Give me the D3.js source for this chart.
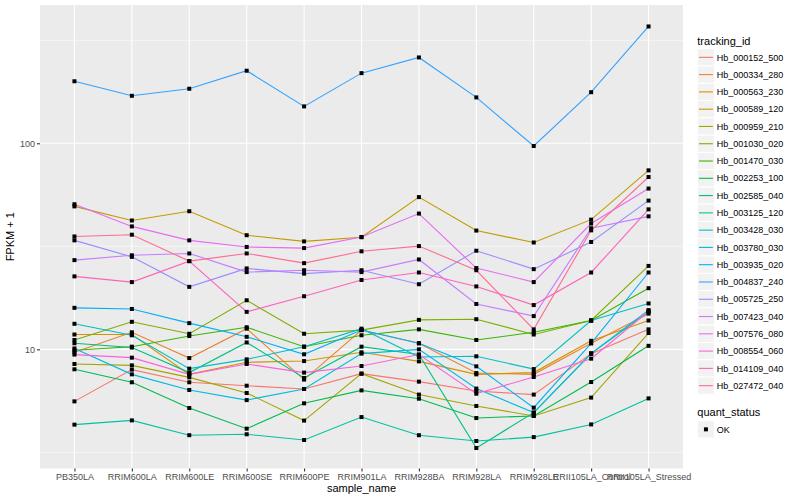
<!DOCTYPE html>
<html>
<head>
<meta charset="utf-8">
<script src="https://cdn.jsdelivr.net/npm/d3@7"></script>
<style>
  body { margin: 0; background: #fff; }
  text { font-family: "Liberation Sans", Arial, Helvetica, sans-serif; }
</style>
</head>
<body>
<svg id="chart"></svg>
<script>
// sample order on the x axis
const samples = [
  "PB350LA", "RRIM600LA", "RRIM600LE", "RRIM600SE", "RRIM600PE", "RRIM901LA",
  "RRIM928BA", "RRIM928LA", "RRIM928LE", "RRII105LA_Control", "RRII105LA_Stressed",
];

const trackingIds = [
  "Hb_000152_500", "Hb_000334_280", "Hb_000563_230", "Hb_000589_120", "Hb_000959_210",
  "Hb_001030_020", "Hb_001470_030", "Hb_002253_100", "Hb_002585_040", "Hb_003125_120",
  "Hb_003428_030", "Hb_003780_030", "Hb_003935_020", "Hb_004837_240", "Hb_005725_250",
  "Hb_007423_040", "Hb_007576_080", "Hb_008554_060", "Hb_014109_040", "Hb_027472_040",
];

// ggplot default hue palette for 20 groups
const seriesColors = [
  "#F8766D", "#EA8331", "#D89000", "#C09B00", "#A3A500",
  "#7CAE00", "#39B600", "#00BB4E", "#00BF7D", "#00C1A3",
  "#00BFC4", "#00BAE0", "#00B0F6", "#35A2FF", "#9590FF",
  "#C77CFF", "#E76BF3", "#FA62DB", "#FF62BC", "#FF6C91",
];

// FPKM + 1, one array per tracking id, in sample order
const hb000152_500 = [5.59, 7.97, 6.92, 6.66, 6.42, 7.62, 6.97, 6.28, 6.03, 9.53, 12.5];
const hb000334_280 = [9.67, 12.1, 9.07, 12.6, 7.13, 12.4, 10.7, 7.67, 7.56, 10.7, 14.9];
const hb000563_230 = [11.8, 11.8, 7.56, 8.65, 8.77, 9.67, 8.74, 7.56, 7.71, 11.0, 13.8];
const hb000589_120 = [49.4, 42.2, 46.8, 35.8, 33.4, 35.0, 54.8, 37.7, 33.0, 42.6, 73.9];
const hb000959_210 = [8.49, 8.36, 7.31, 6.14, 4.51, 7.62, 6.03, 5.31, 4.75, 5.83, 12.0];
const hb001030_020 = [11.1, 13.6, 11.9, 17.3, 11.9, 12.4, 13.9, 14.0, 11.8, 13.8, 25.4];
const hb001470_030 = [9.89, 10.3, 11.6, 12.8, 10.3, 11.7, 12.5, 11.1, 12.1, 13.8, 19.8];
const hb002253_100 = [8.0, 6.92, 5.19, 4.12, 5.47, 6.32, 5.76, 4.64, 4.75, 6.94, 10.4];
const hb002585_040 = [10.7, 10.2, 7.71, 10.8, 7.26, 10.3, 9.43, 3.32, 4.93, 9.53, 15.2];
const hb003125_120 = [4.31, 4.52, 3.83, 3.87, 3.63, 4.69, 3.83, 3.59, 3.75, 4.32, 5.78];
const hb003428_030 = [13.3, 11.7, 8.06, 8.94, 10.3, 12.6, 9.18, 9.25, 8.02, 13.8, 16.7];
const hb003780_030 = [10.1, 7.56, 6.35, 5.67, 6.42, 9.53, 10.0, 6.45, 4.93, 9.56, 15.5];
const hb003935_020 = [15.9, 15.7, 13.4, 11.5, 9.46, 12.4, 10.7, 8.27, 5.21, 10.7, 23.6];
const hb004837_240 = [200, 170, 184, 225, 151, 219, 261, 167, 97, 177, 369];
const hb005725_250 = [33.8, 28.1, 20.1, 24.7, 23.3, 24.2, 20.7, 30.1, 24.5, 33.2, 52.7];
const hb007423_040 = [27.1, 28.6, 29.2, 23.7, 24.2, 23.7, 27.3, 16.6, 14.5, 38.7, 44.2];
const hb007576_080 = [50.6, 39.5, 33.8, 31.4, 31.0, 35.1, 45.6, 24.8, 21.2, 40.8, 60.3];
const hb008554_060 = [9.43, 9.11, 7.56, 8.49, 7.71, 8.30, 9.43, 6.09, 7.34, 9.01, 15.3];
const hb014109_040 = [22.6, 21.2, 26.8, 15.2, 18.1, 21.7, 23.6, 20.2, 16.4, 23.6, 47.8];
const hb027472_040 = [35.3, 36.0, 26.8, 29.2, 26.2, 29.9, 31.7, 24.2, 12.5, 37.8, 68.6];

const seriesValues = [
  hb000152_500, hb000334_280, hb000563_230, hb000589_120, hb000959_210,
  hb001030_020, hb001470_030, hb002253_100, hb002585_040, hb003125_120,
  hb003428_030, hb003780_030, hb003935_020, hb004837_240, hb005725_250,
  hb007423_040, hb007576_080, hb008554_060, hb014109_040, hb027472_040,
];

const yMajorTicks = [10, 100];
const yMinorTicks = [3.162, 31.62, 316.2];
const statusLabels = ["OK"];

(() => {
  const width = 800;
  const height = 500;
  const panel = { left: 40, right: 683, top: 5, bottom: 468.5 };

  const svg = d3.select("#chart").attr("width", width).attr("height", height);
  svg.append("rect").attr("width", width).attr("height", height).attr("fill", "#fff");

  const x = d3.scalePoint().domain(samples).range([panel.left, panel.right]).padding(0.6);
  const y = d3.scaleLog().domain([2.64, 469]).range([panel.bottom, panel.top]);

  // panel + grid
  svg.append("rect")
    .attr("x", panel.left).attr("y", panel.top)
    .attr("width", panel.right - panel.left)
    .attr("height", panel.bottom - panel.top)
    .attr("fill", "#EBEBEB");

  svg.append("g").selectAll("line")
    .data(yMinorTicks)
    .join("line")
    .attr("x1", panel.left).attr("x2", panel.right)
    .attr("y1", (d) => y(d)).attr("y2", (d) => y(d))
    .attr("stroke", "#fff").attr("stroke-width", 0.55);

  svg.append("g").selectAll("line")
    .data(yMajorTicks)
    .join("line")
    .attr("x1", panel.left).attr("x2", panel.right)
    .attr("y1", (d) => y(d)).attr("y2", (d) => y(d))
    .attr("stroke", "#fff").attr("stroke-width", 1.1);

  svg.append("g").selectAll("line")
    .data(samples)
    .join("line")
    .attr("x1", (d) => x(d)).attr("x2", (d) => x(d))
    .attr("y1", panel.top).attr("y2", panel.bottom)
    .attr("stroke", "#fff").attr("stroke-width", 1.1);

  // lines
  const series = trackingIds.map((id, i) => ({
    id,
    color: seriesColors[i],
    values: seriesValues[i].map((v, j) => ({ sample: samples[j], value: v })),
  }));

  const line = d3.line().x((d) => x(d.sample)).y((d) => y(d.value));

  svg.append("g").selectAll("path")
    .data(series)
    .join("path")
    .attr("d", (d) => line(d.values))
    .attr("fill", "none")
    .attr("stroke", (d) => d.color)
    .attr("stroke-width", 1.1);

  // points (quant_status = OK, square)
  svg.append("g").selectAll("rect")
    .data(series.flatMap((s) => s.values))
    .join("rect")
    .attr("x", (d) => x(d.sample) - 2)
    .attr("y", (d) => y(d.value) - 2)
    .attr("width", 4).attr("height", 4)
    .attr("fill", "#000");

  // axes
  const xAxis = svg.append("g")
    .attr("transform", `translate(0,${panel.bottom})`)
    .call(d3.axisBottom(x).tickSize(3).tickPadding(2));
  const yAxis = svg.append("g")
    .attr("transform", `translate(${panel.left},0)`)
    .call(d3.axisLeft(y).tickValues(yMajorTicks).tickFormat(d3.format("d")).tickSize(3).tickPadding(2));

  [xAxis, yAxis].forEach((g) => {
    g.select(".domain").remove();
    g.selectAll(".tick line").attr("stroke", "#333").attr("stroke-width", 1.1);
    g.selectAll(".tick text")
      .attr("fill", "#4D4D4D")
      .style("font-size", "9px")
      .style("font-family", '"Liberation Sans", Arial, sans-serif');
  });

  svg.append("text")
    .attr("x", (panel.left + panel.right) / 2).attr("y", 492)
    .attr("text-anchor", "middle")
    .style("font-size", "11px")
    .text("sample_name");

  svg.append("text")
    .attr("transform", `translate(14,${(panel.top + panel.bottom) / 2}) rotate(-90)`)
    .attr("text-anchor", "middle")
    .style("font-size", "11px")
    .text("FPKM + 1");

  // legend: tracking_id
  const keySize = 17.28;
  const legendX = 697.3;
  const legend = svg.append("g");

  legend.append("text")
    .attr("x", legendX).attr("y", 44.5)
    .style("font-size", "11px")
    .text("tracking_id");

  const keys = legend.selectAll("g.key")
    .data(series)
    .join("g")
    .attr("class", "key")
    .attr("transform", (d, i) => `translate(${legendX},${48.7 + i * keySize})`);

  keys.append("rect")
    .attr("width", keySize).attr("height", keySize)
    .attr("fill", "#F2F2F2").attr("stroke", "#fff").attr("stroke-width", 1);
  keys.append("line")
    .attr("x1", 1.7).attr("x2", keySize - 1.7)
    .attr("y1", keySize / 2).attr("y2", keySize / 2)
    .attr("stroke", (d) => d.color).attr("stroke-width", 1.1);
  keys.append("text")
    .attr("x", keySize + 2.2).attr("y", keySize / 2 + 3.2)
    .style("font-size", "9px")
    .text((d) => d.id);

  // legend: quant_status
  legend.append("text")
    .attr("x", legendX).attr("y", 416)
    .style("font-size", "11px")
    .text("quant_status");

  const statusKeys = legend.selectAll("g.status")
    .data(statusLabels)
    .join("g")
    .attr("class", "status")
    .attr("transform", (d, i) => `translate(${legendX},${420.7 + i * keySize})`);

  statusKeys.append("rect")
    .attr("width", keySize).attr("height", keySize)
    .attr("fill", "#F2F2F2").attr("stroke", "#fff").attr("stroke-width", 1);
  statusKeys.append("rect")
    .attr("x", keySize / 2 - 2).attr("y", keySize / 2 - 2)
    .attr("width", 4).attr("height", 4)
    .attr("fill", "#000");
  statusKeys.append("text")
    .attr("x", keySize + 2.2).attr("y", keySize / 2 + 3.2)
    .style("font-size", "9px")
    .text((d) => d);
})();
</script>
</body>
</html>
